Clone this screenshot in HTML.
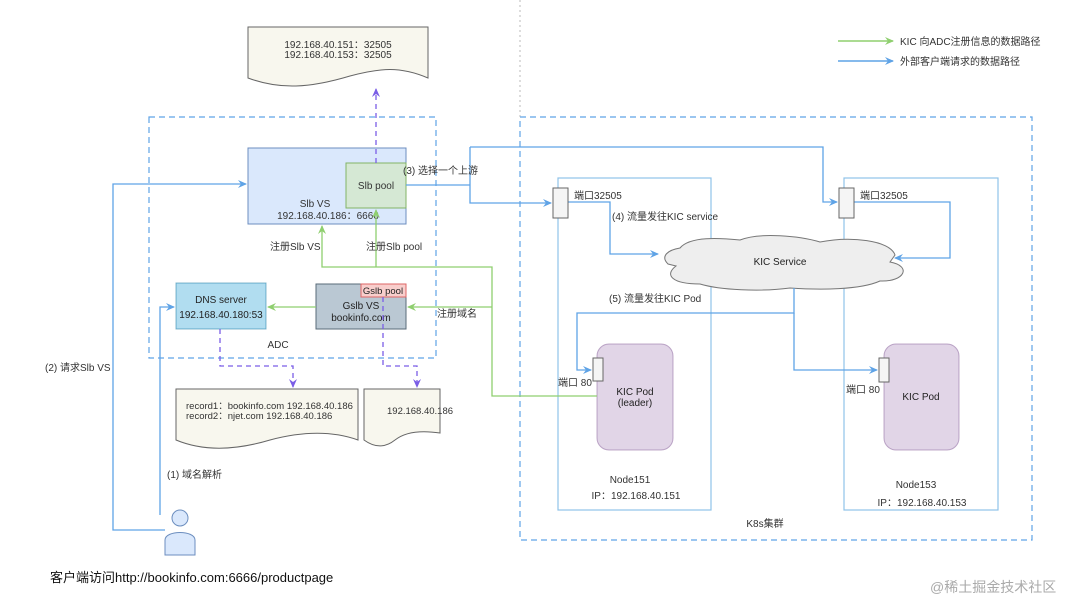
<!DOCTYPE html>
<html><head><meta charset="utf-8"><style>
body{margin:0;background:#fff;}
svg{display:block;font-family:"Liberation Sans","Noto Sans CJK SC",sans-serif;}
</style></head><body>
<svg width="1080" height="606" viewBox="0 0 1080 606" xmlns="http://www.w3.org/2000/svg">
<defs>
<marker id="ab" markerWidth="10" markerHeight="10" refX="8" refY="5" orient="auto" markerUnits="userSpaceOnUse"><path d="M0,1 L9,5 L0,9 L3,5z" fill="#5fa3e6"/></marker>
<marker id="ag" markerWidth="10" markerHeight="10" refX="8" refY="5" orient="auto" markerUnits="userSpaceOnUse"><path d="M0,1 L9,5 L0,9 L3,5z" fill="#8fcf6f"/></marker>
<marker id="ap" markerWidth="10" markerHeight="10" refX="8" refY="5" orient="auto" markerUnits="userSpaceOnUse"><path d="M0,1 L9,5 L0,9 L3,5z" fill="#7b5ee6"/></marker>
</defs>
<line x1="520" y1="0" x2="520" y2="117" stroke="#bbb" stroke-dasharray="2,3"/>
<!-- legend -->
<line x1="838" y1="41" x2="893" y2="41" stroke="#8fcf6f" stroke-width="1.5" marker-end="url(#ag)"/>
<text x="900" y="45" font-size="10" fill="#333">KIC 向ADC注册信息的数据路径</text>
<line x1="838" y1="61" x2="893" y2="61" stroke="#5fa3e6" stroke-width="1.5" marker-end="url(#ab)"/>
<text x="900" y="65" font-size="10" fill="#333">外部客户端请求的数据路径</text>
<!-- top doc -->
<path d="M248,27 H428 V78 C400,66 380,68 350,76 C310,88 280,90 248,78 Z" fill="#f8f7ee" stroke="#666"/>
<text x="338" y="48" font-size="10" text-anchor="middle" fill="#333">192.168.40.151：32505</text>
<text x="338" y="58" font-size="10" text-anchor="middle" fill="#333">192.168.40.153：32505</text>
<!-- ADC box -->
<rect x="149" y="117" width="287" height="241" fill="none" stroke="#5fa3e6" stroke-dasharray="6,4" stroke-width="1.2"/>
<text x="278" y="348" font-size="10" text-anchor="middle" fill="#333">ADC</text>
<!-- K8s box -->
<rect x="520" y="117" width="512" height="423" fill="none" stroke="#5fa3e6" stroke-dasharray="6,4" stroke-width="1.2"/>
<text x="765" y="527" font-size="10" text-anchor="middle" fill="#333">K8s集群</text>
<!-- nodes -->
<rect x="558" y="178" width="153" height="332" fill="none" stroke="#8fc3e8" stroke-width="1.2"/>
<rect x="844" y="178" width="154" height="332" fill="none" stroke="#8fc3e8" stroke-width="1.2"/>
<text x="630" y="483" font-size="10" text-anchor="middle" fill="#333">Node151</text>
<text x="636" y="499" font-size="10" text-anchor="middle" fill="#333">IP：192.168.40.151</text>
<text x="916" y="488" font-size="10" text-anchor="middle" fill="#333">Node153</text>
<text x="922" y="506" font-size="10" text-anchor="middle" fill="#333">IP：192.168.40.153</text>
<!-- Slb VS -->
<rect x="248" y="148" width="158" height="76" fill="#dae8fc" stroke="#6c8ebf"/>
<text x="315" y="207" font-size="10" text-anchor="middle" fill="#333">Slb VS</text>
<text x="328" y="219" font-size="10" text-anchor="middle" fill="#333">192.168.40.186：6666</text>
<rect x="346" y="163" width="60" height="45" fill="#d5e8d4" stroke="#82b366"/>
<text x="376" y="189" font-size="10" text-anchor="middle" fill="#333">Slb pool</text>
<!-- DNS -->
<rect x="176" y="283" width="90" height="46" fill="#b1ddf0" stroke="#10739e" stroke-opacity=".5"/>
<text x="221" y="303" font-size="10" text-anchor="middle" fill="#222">DNS server</text>
<text x="221" y="318" font-size="10" text-anchor="middle" fill="#222">192.168.40.180:53</text>
<!-- Gslb -->
<rect x="316" y="284" width="90" height="45" fill="#bac8d3" stroke="#5a6b78"/>
<text x="361" y="309" font-size="10" text-anchor="middle" fill="#222">Gslb VS</text>
<text x="361" y="321" font-size="10" text-anchor="middle" fill="#222">bookinfo.com</text>
<rect x="361" y="284" width="45" height="13" fill="#f8cecc" stroke="#d66"/>
<text x="383" y="294" font-size="9.5" text-anchor="middle" fill="#222">Gslb pool</text>
<!-- docs -->
<path d="M176,389 H358 V440 C330,430 300,432 270,440 C230,452 200,450 176,440 Z" fill="#f8f7ee" stroke="#666"/>
<text x="186" y="409" font-size="9.5" fill="#333">record1：bookinfo.com 192.168.40.186</text>
<text x="186" y="419" font-size="9.5" fill="#333">record2：njet.com 192.168.40.186</text>
<path d="M364,389 H440 V433 C420,430 405,432 395,440 C385,448 375,448 364,440 Z" fill="#f8f7ee" stroke="#666"/>
<text x="387" y="414" font-size="9.5" fill="#333">192.168.40.186</text>
<!-- cloud -->
<path d="M680,248 C690,236 720,238 740,240 C760,232 800,236 820,242 C850,236 890,240 895,255 L890,262 C912,266 905,282 880,281 C860,290 820,290 790,288 C760,292 720,290 700,284 C672,284 664,275 676,266 L668,264 C660,256 668,250 680,248 Z" fill="#eeeeee" stroke="#777"/>
<text x="780" y="265" font-size="10" text-anchor="middle" fill="#222">KIC Service</text>
<!-- pods -->
<rect x="597" y="344" width="76" height="106" rx="12" fill="#e1d5e7" stroke="#9673a6" stroke-opacity=".6"/>
<text x="635" y="395" font-size="10" text-anchor="middle" fill="#222">KIC Pod</text>
<text x="635" y="406" font-size="10" text-anchor="middle" fill="#222">(leader)</text>
<rect x="884" y="344" width="75" height="106" rx="12" fill="#e1d5e7" stroke="#9673a6" stroke-opacity=".6"/>
<text x="921" y="400" font-size="10" text-anchor="middle" fill="#222">KIC Pod</text>
<!-- blue lines -->
<g fill="none" stroke="#5fa3e6" stroke-width="1.3">
<polyline points="165,530 113,530 113,184 246,184" marker-end="url(#ab)"/>
<polyline points="160,515 160,307 174,307" marker-end="url(#ab)"/>
<polyline points="406,185 470,185"/>
<polyline points="470,147 470,203 551,203" marker-end="url(#ab)"/>
<polyline points="470,147 823,147 823,202 837,202" marker-end="url(#ab)"/>
<polyline points="568,202 610,202 610,254 658,254" marker-end="url(#ab)"/>
<polyline points="854,202 950,202 950,258 895,258" marker-end="url(#ab)"/>
<polyline points="794,288 794,313 577,313 577,370 591,370" marker-end="url(#ab)"/>
<polyline points="794,313 794,370 877,370" marker-end="url(#ab)"/>
</g>
<!-- green lines -->
<g fill="none" stroke="#8fcf6f" stroke-width="1.3">
<polyline points="597,396 492,396 492,267 322,267 322,226" marker-end="url(#ag)"/>
<polyline points="376,267 376,210" marker-end="url(#ag)"/>
<polyline points="492,307 408,307" marker-end="url(#ag)"/>
<polyline points="316,307 268,307" marker-end="url(#ag)"/>
</g>
<!-- purple dashed -->
<g fill="none" stroke="#7b5ee6" stroke-width="1.3" stroke-dasharray="5,4">
<polyline points="376,163 376,89" marker-end="url(#ap)"/>
<polyline points="220,329 220,366 293,366 293,387" marker-end="url(#ap)"/>
<polyline points="383,297 383,366 417,366 417,387" marker-end="url(#ap)"/>
</g>
<!-- ports -->
<rect x="553" y="188" width="15" height="30" fill="#f5f5f5" stroke="#666"/>
<rect x="839" y="188" width="15" height="30" fill="#f5f5f5" stroke="#666"/>
<rect x="593" y="358" width="10" height="23" fill="#f5f5f5" stroke="#666"/>
<rect x="879" y="358" width="10" height="24" fill="#f5f5f5" stroke="#666"/>
<g font-size="10" fill="#333">
<text x="574" y="199">端口32505</text>
<text x="860" y="199">端口32505</text>
<text x="558" y="386">端口 80</text>
<text x="846" y="393">端口 80</text>
<text x="612" y="220">(4) 流量发往KIC service</text>
<text x="609" y="302">(5) 流量发往KIC Pod</text>
<text x="403" y="174">(3) 选择一个上游</text>
<text x="270" y="250">注册Slb VS</text>
<text x="366" y="250">注册Slb pool</text>
<text x="437" y="317">注册域名</text>
<text x="45" y="371">(2) 请求Slb VS</text>
<text x="167" y="478">(1) 域名解析</text>
</g>
<!-- person -->
<circle cx="180" cy="518" r="8" fill="#dae8fc" stroke="#6c8ebf"/>
<path d="M165,555 V540 C165,530 195,530 195,540 V555 Z" fill="#dae8fc" stroke="#6c8ebf"/>
<text x="50" y="582" font-size="13" fill="#111">客户端访问http://bookinfo.com:6666/productpage</text>
<text x="930" y="592" font-size="14" fill="#aaa">@稀土掘金技术社区</text>
</svg>
</body></html>
